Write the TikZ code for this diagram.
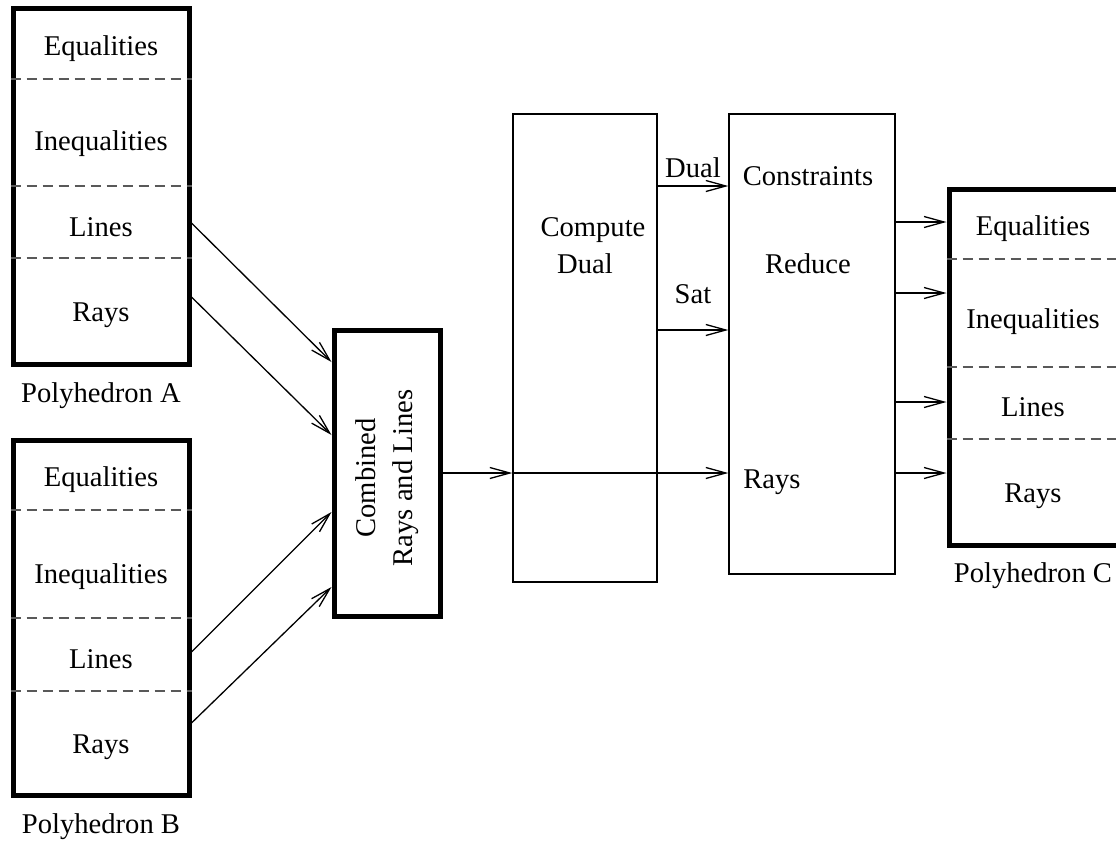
\documentclass[tikz,border=0pt]{standalone}
\usepackage{fontspec}
\setmainfont{Liberation Serif}
\usetikzlibrary{arrows.meta}

\tikzset{
  polybox/.style={draw, line width=2.5pt, inner sep=0pt},
  stagebox/.style={draw, line width=0.7pt, inner sep=0pt},
  divider/.style={draw=black!65, line width=0.6pt, dash pattern=on 5pt off 3pt},
  flow/.style={line width=0.65pt, -{Straight Barb[length=10pt,width=5.5pt]}},
  txt/.style={anchor=base, inner sep=0pt},
}

\begin{document}
\begin{tikzpicture}[x=0.5pt, y=-0.5pt, font=\fontsize{14.3}{18.5}\selectfont]
  \useasboundingbox (0,0) rectangle (1116,842);

  % polyhedron A
  \node [polybox, minimum width=88pt, minimum height=178pt] (polyA) at (101,186) {};
  \draw [divider] (polyA.west |- 0,79) -- (polyA.east |- 0,79);
  \draw [divider] (polyA.west |- 0,186) -- (polyA.east |- 0,186);
  \draw [divider] (polyA.west |- 0,258) -- (polyA.east |- 0,258);
  \node [txt] at (101,55) {Equalities};
  \node [txt] at (101,150) {Inequalities};
  \node [txt] at (101,236) {Lines};
  \node [txt] at (101,321) {Rays};
  \node [txt] at (101,402) {Polyhedron A};

  % polyhedron B
  \node [polybox, minimum width=88pt, minimum height=177.5pt] (polyB) at (101,617.5) {};
  \draw [divider] (polyB.west |- 0,510) -- (polyB.east |- 0,510);
  \draw [divider] (polyB.west |- 0,618) -- (polyB.east |- 0,618);
  \draw [divider] (polyB.west |- 0,691) -- (polyB.east |- 0,691);
  \node [txt] at (101,486) {Equalities};
  \node [txt] at (101,583) {Inequalities};
  \node [txt] at (101,668) {Lines};
  \node [txt] at (101,753) {Rays};
  \node [txt] at (101,833) {Polyhedron B};

  % combining step
  \node [polybox, minimum width=53pt, minimum height=143pt] (comb) at (387,473) {};
  \node [rotate=90, align=center] at (387,478) {Combined\\Rays and Lines};
  \draw [flow] (polyA.east |- 0,223) -- (comb.west |- 0,362);
  \draw [flow] (polyA.east |- 0,297) -- (comb.west |- 0,435);
  \draw [flow] (polyB.east |- 0,652) -- (comb.west |- 0,512);
  \draw [flow] (polyB.east |- 0,723) -- (comb.west |- 0,587);

  % dual and reduction
  \node [stagebox, minimum width=72pt, minimum height=234pt] (dual) at (585,348) {};
  \node [txt] at (593,236) {Compute};
  \node [txt] at (585,273) {Dual};
  \node [stagebox, minimum width=83pt, minimum height=230pt] (reduce) at (812,344) {};
  \node [txt] at (808,185) {Constraints};
  \node [txt] at (808,273) {Reduce};
  \node [txt, anchor=base west] at (743,488) {Rays};
  \draw [flow] (comb.east) -- (dual.west |- comb.east);
  \draw [flow] (dual.west |- comb.east) -- (reduce.west |- comb.east);
  \draw [flow] (dual.east |- 0,186) -- (reduce.west |- 0,186);
  \node [txt] at (693,177) {Dual};
  \draw [flow] (dual.east |- 0,330) -- (reduce.west |- 0,330);
  \node [txt] at (693,303) {Sat};

  % polyhedron C
  \node [polybox, minimum width=84.5pt, minimum height=178pt] (polyC) at (1033.5,367) {};
  \draw [divider] (polyC.west |- 0,259) -- (polyC.east |- 0,259);
  \draw [divider] (polyC.west |- 0,367) -- (polyC.east |- 0,367);
  \draw [divider] (polyC.west |- 0,439) -- (polyC.east |- 0,439);
  \node [txt] at (1033,235) {Equalities};
  \node [txt] at (1033,328) {Inequalities};
  \node [txt] at (1033,416) {Lines};
  \node [txt] at (1033,502) {Rays};
  \node [txt] at (1033,582) {Polyhedron C};
  \draw [flow] (reduce.east |- 0,222) -- (polyC.west |- 0,222);
  \draw [flow] (reduce.east |- 0,293) -- (polyC.west |- 0,293);
  \draw [flow] (reduce.east |- 0,402) -- (polyC.west |- 0,402);
  \draw [flow] (reduce.east |- 0,473) -- (polyC.west |- 0,473);
\end{tikzpicture}
\end{document}
